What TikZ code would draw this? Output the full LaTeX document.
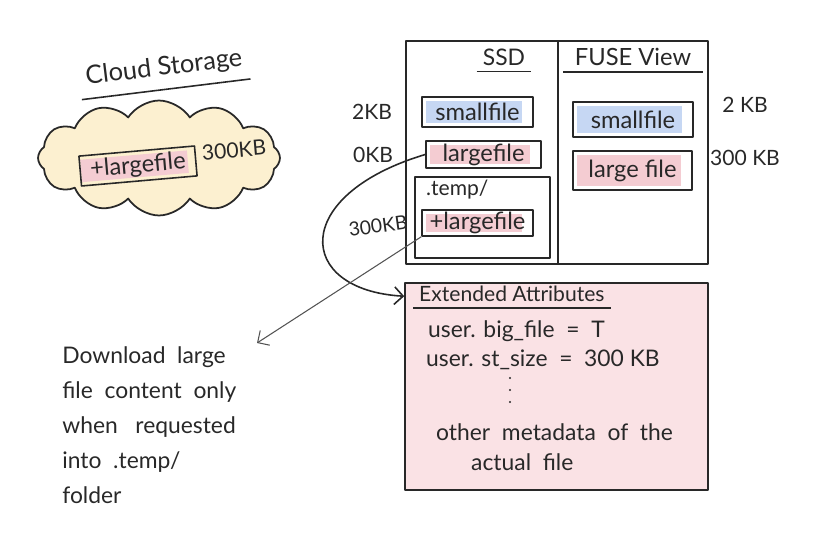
\documentclass[tikz,border=0pt]{standalone}
\usepackage{fontspec}
\setmainfont{Lato}
\usetikzlibrary{shapes.symbols,arrows.meta}
\definecolor{cloudfill}{RGB}{252,240,208}
\definecolor{pinkhl}{RGB}{244,204,210}
\definecolor{bluehl}{RGB}{198,215,243}
\definecolor{attrfill}{RGB}{250,226,229}
\definecolor{ink}{RGB}{40,40,40}
\begin{document}
\begin{tikzpicture}[x=0.02cm, y=-0.02cm, line join=round,
    hand/.style={font=\fontsize{12}{14}\selectfont, text=ink},
    filebox/.style={draw=ink, line width=0.9pt, hand, font=\fontsize{13.5}{15}\selectfont, inner sep=0pt, minimum width=#1},
    pinkmark/.style={path picture={\fill[pinkhl] ([shift={(2pt,2pt)}]path picture bounding box.south west) rectangle ([shift={(-6pt,-2pt)}]path picture bounding box.north east);}},
    bluemark/.style={path picture={\fill[bluehl] ([shift={(2pt,2pt)}]path picture bounding box.south west) rectangle ([shift={(-6pt,-2pt)}]path picture bounding box.north east);}},
    column/.style={draw=ink, line width=0.9pt, minimum height=4.46cm, minimum width=#1},
    attrline/.style={hand, font=\fontsize{13}{15}\selectfont, anchor=west},
    >={Straight Barb[length=5pt,width=10pt]}]
  \useasboundingbox (0,0) rectangle (824,557);

  \node[cloud, cloud puffs=12, cloud puff arc=115, cloud ignores aspect, draw=ink, line width=1pt, fill=cloudfill, minimum width=4.84cm, minimum height=2.3cm] (cloud) at (159,158) {};
  \node[hand, font=\fontsize{14.5}{16}\selectfont, rotate=7] (title) at (164,68) {Cloud Storage};
  \draw[ink, line width=0.9pt] ([yshift=-2pt]title.south west) -- ([yshift=-2pt]title.south east);
  \node[filebox=2.32cm, minimum height=0.6cm, pinkmark, rotate=5] (cloudlg) at (138,166) {+largefile};
  \node[hand, rotate=5] (cloudsz) at (234,150) {300KB};

  \node[column=3.04cm] (ssd) at (482,152.5) {};
  \node[column=3.0cm] (fuse) at (633,152.5) {};
  \node[hand, font=\fontsize{13}{15}\selectfont] (ssdt) at (504,57) {SSD};
  \draw[ink, line width=0.9pt] (ssdt.south west) -- (ssdt.south east);
  \node[hand, font=\fontsize{13.5}{15}\selectfont] (fuset) at (633,57) {FUSE View};
  \draw[ink, line width=0.9pt] ([xshift=-3pt]fuset.south west) -- ([xshift=3pt]fuset.south east);

  \node[filebox=2.22cm, minimum height=0.6cm, bluemark] (ssdsm) at (477.5,112) {smallfile};
  \node[filebox=2.3cm, minimum height=0.54cm, pinkmark] (ssdlg) at (483.5,154.5) {largefile};
  \node[draw=ink, line width=0.9pt, minimum width=2.7cm, minimum height=1.62cm] (tmp) at (482.5,217.5) {};
  \node[hand, anchor=west] (tmpt) at (420,190) {.temp/};
  \node[filebox=2.22cm, minimum height=0.52cm, pinkmark] (tmplg) at (477.5,223) {+largefile};
  \node[filebox=2.4cm, minimum height=0.7cm, bluemark] (fusesm) at (633,119.5) {smallfile};
  \node[filebox=2.38cm, minimum height=0.78cm, pinkmark] (fuselg) at (632.5,170.5) {large file};

  \node[hand] (ssdsmsz) at (372,112) {2KB};
  \node[hand] (ssdlgsz) at (373,155) {0KB};
  \node[hand, font=\fontsize{11}{13}\selectfont, rotate=8] (tmplgsz) at (378,226) {300KB};
  \node[hand] (fusesmsz) at (745,105) {2 KB};
  \node[hand] (fuselgsz) at (745,158) {300 KB};

  \node[draw=ink, line width=0.9pt, fill=attrfill, minimum width=6.06cm, minimum height=4.14cm] (attr) at (556.5,386.5) {};
  \node[hand, anchor=west] (attrt) at (413,294) {Extended Attributes};
  \draw[ink, line width=0.9pt] (attrt.south west) -- (attrt.south east);
  \node[attrline] (bigfile) at (422,331) {user. big\_file \ = \ T};
  \node[attrline] (stsize) at (420,360) {user. st\_size \ = \ 300 KB};
  \foreach \y in {378,390,402}{
    \fill[ink] (510,\y) circle [radius=0.6pt];
  }
  \node[attrline] (other) at (430,432) {other \ metadata \ of \ the};
  \node[attrline] (actual) at (465,462) {actual \ file};

  \draw[->, ink, line width=0.9pt] (ssdlg.west) .. controls (290,195) and (295,290) .. ([yshift=-0.28cm]attr.north west);

  \node[hand, font=\fontsize{13}{20}\selectfont, anchor=north west, align=left, inner sep=0pt] (note) at (62,346) {Download \ large\\file \ content \ only\\when \ \ requested\\into \ .temp/\\folder};
  \coordinate (dl) at (257,343);
  \draw[->, ink!80, line width=0.6pt] (tmplg.south west) -- (dl);
\end{tikzpicture}
\end{document}
